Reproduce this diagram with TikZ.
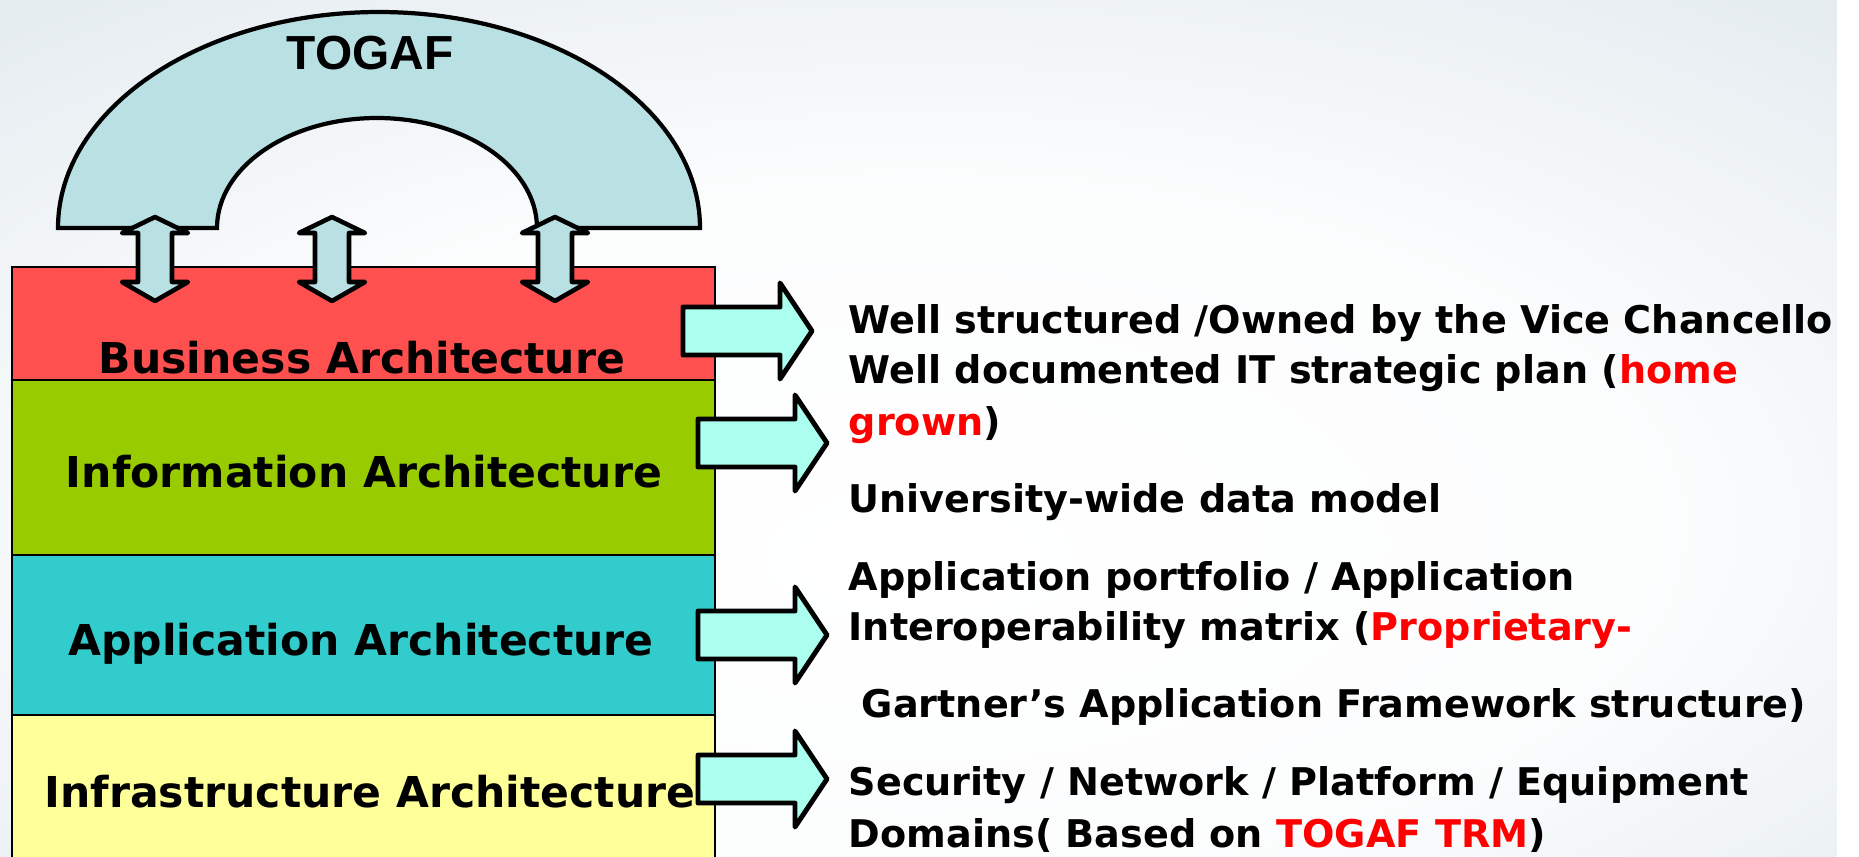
\documentclass[tikz,border=0pt]{standalone}
\usepackage{fontspec}
\setmainfont{DejaVu Sans}
\newfontfamily\arialfont{Liberation Sans}
\usepackage{tikz}
\usetikzlibrary{positioning,calc}

\definecolor{archblue}{HTML}{B9E0E3}
\definecolor{busred}{HTML}{FF5050}
\definecolor{infogreen}{HTML}{99CC00}
\definecolor{appteal}{HTML}{33CCCC}
\definecolor{infrayellow}{HTML}{FFFF99}
\definecolor{arrowaqua}{HTML}{AAFFEE}
\definecolor{bgblue}{HTML}{BED0DA}

\pgfdeclareradialshading{bgglow}{\pgfpoint{0bp}{-8bp}}{color(0bp)=(white); color(20bp)=(white!95!bgblue); color(45bp)=(white!45!bgblue); color(75bp)=(bgblue)}

\tikzset{
  layertext/.style={font=\bfseries\fontsize{12.1}{14}\selectfont, anchor=base, inner sep=0pt},
  infotext/.style={font=\bfseries\fontsize{10.85}{14}\selectfont, anchor=base west, inner sep=0pt},
  blockarrow/.style={draw=black, line width=1.4pt, line join=round, fill=arrowaqua},
  updown/.style={draw=black, line width=1.3pt, line join=round, fill=archblue},
}

\begin{document}
\begin{tikzpicture}[x=0.01cm, y=-0.01cm]
    \useasboundingbox (0,0) rectangle (1859,857);
    \clip (0,0) rectangle (1859,857);

    % Background
    \shade[shading=bgglow] (0,0) rectangle (1837,857);

    % TOGAF arch
    \draw[line width=1.2pt, fill=archblue] (58,228)
        arc[start angle=180, end angle=360, x radius=321, y radius=216] -- (537,228)
        arc[start angle=0, end angle=-180, x radius=160, y radius=110] -- cycle;
    \node[font=\arialfont\bfseries\fontsize{13.6}{16}\selectfont, anchor=base, inner sep=0pt] (togaf) at (370,69) {TOGAF};

    % Layers
    \foreach \top/\bot/\col in {267/380/busred, 380/555/infogreen, 555/715/appteal, 715/870/infrayellow}
        \draw[line width=0.7pt, fill=\col] (12,\top) rectangle (715,\bot);

    \node[layertext] (business) at (362,373) {Business Architecture};
    \node[layertext] (information) at (364,487) {Information Architecture};
    \node[layertext] (application) at (361,655) {Application Architecture};
    \node[layertext] (infrastructure) at (370,807) {Infrastructure Architecture};

    % Up/down arrows
    \foreach \cx in {155,332,555}
        \draw[updown] (\cx,217) -- ++(33,16) -- ++(-16,0) -- ++(0,49) -- ++(16,0) -- (\cx,301)
            -- ++(-33,-19) -- ++(16,0) -- ++(0,-49) -- ++(-16,0) -- cycle;

    % Arrows to the notes
    \foreach \lx/\cy in {683/331, 698/443, 698/635, 698/779}
        \draw[blockarrow] (\lx,\cy-24) -- ++(97,0) -- ++(0,-24) -- ++(32,48) -- ++(-32,48)
            -- ++(0,-24) -- ++(-97,0) -- cycle;

    % Notes
    \node[infotext] (owned) at (848,333) {Well structured /Owned by the Vice Chancello};
    \node[infotext] (plan) at (848,383) {Well documented IT strategic plan (\textcolor{red}{home}};
    \node[infotext] (grown) at (848,435) {\textcolor{red}{grown})};
    \node[infotext] (datamodel) at (848,512) {University-wide data model};
    \node[infotext] (portfolio) at (848,590) {Application portfolio / Application};
    \node[infotext] (interop) at (848,640) {Interoperability matrix (\textcolor{red}{Proprietary-}};
    \node[infotext] (gartner) at (861,717) {Gartner’s Application Framework structure)};
    \node[infotext] (security) at (848,795) {Security / Network / Platform / Equipment};
    \node[infotext] (domains) at (848,847) {Domains( Based on \textcolor{red}{TOGAF TRM})};

    % Edge strip
    \fill[white] (1837,0) rectangle (1859,857);
\end{tikzpicture}
\end{document}
